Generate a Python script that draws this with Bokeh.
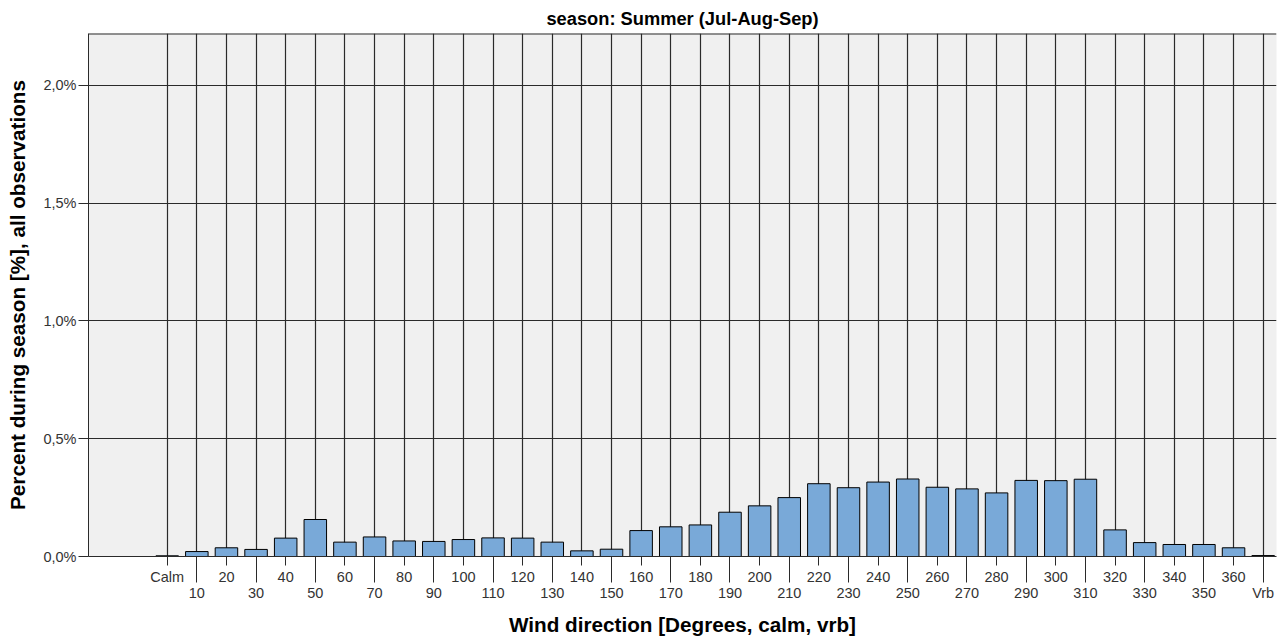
from bokeh.plotting import figure
from bokeh.models import FixedTicker, Range1d, Span, ColumnDataSource
from bokeh.embed import file_html
from bokeh.resources import INLINE

# ---- data ----
directions = ["Calm", "10", "20", "30", "40", "50", "60", "70", "80", "90",
              "100", "110", "120", "130", "140", "150", "160", "170", "180",
              "190", "200", "210", "220", "230", "240", "250", "260", "270",
              "280", "290", "300", "310", "320", "330", "340", "350", "360", "Vrb"]
percent = [0.003, 0.021, 0.037, 0.030, 0.078, 0.157, 0.061, 0.083, 0.066, 0.064,
           0.072, 0.079, 0.078, 0.061, 0.024, 0.031, 0.110, 0.126, 0.134,
           0.188, 0.215, 0.250, 0.309, 0.292, 0.316, 0.329, 0.294, 0.287,
           0.270, 0.323, 0.322, 0.328, 0.113, 0.059, 0.051, 0.051, 0.037, 0.004]
y_ticks = [0.0, 0.5, 1.0, 1.5, 2.0]
y_tick_labels = ["0,0%", "0,5%", "1,0%", "1,5%", "2,0%"]
title_text = "season: Summer (Jul-Aug-Sep)"
x_title = "Wind direction [Degrees, calm, vrb]"
y_title = "Percent during season [%], all observations"

FONT = "Liberation Sans"
GRID = "#2a2a2a"

xs = list(range(len(directions)))
src = ColumnDataSource(dict(x=xs, pct=percent, name=directions))

p = figure(width=1287, height=641, output_backend="svg", toolbar_location=None,
           x_range=Range1d(-2.657, 37.45), y_range=Range1d(0, 2.22),
           title=title_text,
           min_border_left=88, min_border_right=11, min_border_top=0, min_border_bottom=85)

p.background_fill_color = "#F0F0F0"
p.border_fill_color = "white"
p.outline_line_color = None

p.title.align = "center"
p.title.text_font = FONT
p.title.text_font_size = "18.3px"
p.title.text_font_style = "bold"
p.title.text_color = "black"
p.title.standoff = 10

# bars
p.vbar(x="x", top="pct", width=0.76, source=src, fill_color="#79A9D8",
       line_color="black", line_width=1)

# x axis
xticker = FixedTicker(ticks=xs, minor_ticks=[i for i in xs if i % 2 == 1])
xa = p.xaxis[0]
xa.ticker = xticker
xa.major_label_overrides = {i: (d if i % 2 == 0 else "\n" + d) for i, d in zip(xs, directions)}
xa.major_tick_out = 9
xa.major_tick_in = 0
xa.minor_tick_out = 26
xa.minor_tick_in = 0
xa.major_tick_line_color = GRID
xa.minor_tick_line_color = GRID
xa.axis_line_color = GRID
xa.major_label_text_font = FONT
xa.major_label_text_font_size = "14.5px"
xa.major_label_text_color = "#333333"
xa.major_label_text_line_height = 1.05
xa.major_label_standoff = -14
xa.axis_label = x_title
xa.axis_label_text_font = FONT
xa.axis_label_text_font_size = "20.7px"
xa.axis_label_text_font_style = "bold"
xa.axis_label_text_color = "black"
xa.axis_label_standoff = 9

# y axis
ya = p.yaxis[0]
ya.ticker = FixedTicker(ticks=y_ticks)
ya.major_label_overrides = {t: l for t, l in zip(y_ticks, y_tick_labels)}
ya.major_tick_out = 10
ya.major_tick_in = 0
ya.minor_tick_out = 0
ya.minor_tick_line_color = None
ya.major_tick_line_color = GRID
ya.axis_line_color = GRID
ya.major_label_text_font = FONT
ya.major_label_text_font_size = "14.5px"
ya.major_label_text_color = "#333333"
ya.major_label_standoff = 2
ya.axis_label = y_title
ya.axis_label_text_font = FONT
ya.axis_label_text_font_size = "20.7px"
ya.axis_label_text_font_style = "bold"
ya.axis_label_text_color = "black"
ya.axis_label_standoff = 11

# grids
p.xgrid.grid_line_color = GRID
p.xgrid.grid_line_width = 1.2
p.ygrid.grid_line_color = GRID
p.ygrid.grid_line_width = 1.2
p.ygrid.ticker = FixedTicker(ticks=y_ticks)

# frame top border
p.add_layout(Span(location=2.22, dimension="width", line_color=GRID, line_width=2))

open("out.html", "w").write(file_html(p, INLINE))
